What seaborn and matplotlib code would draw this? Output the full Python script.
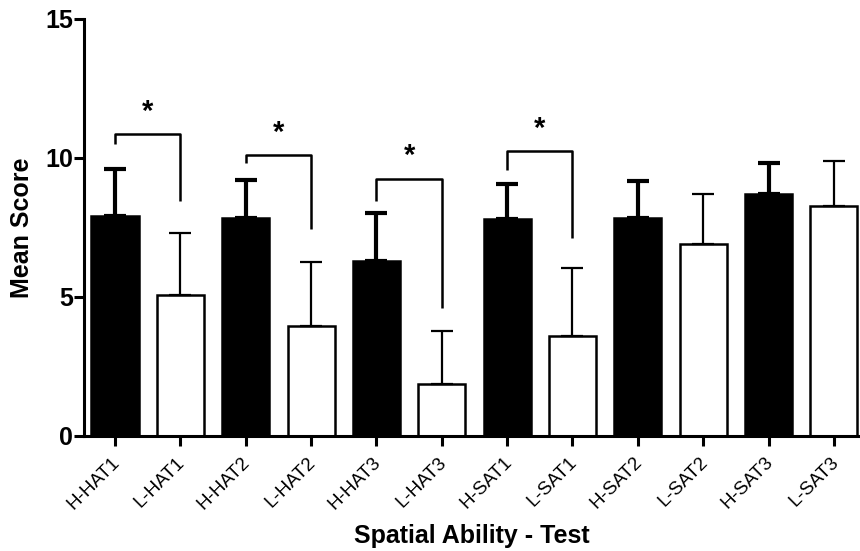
import matplotlib
matplotlib.use("Agg")
import matplotlib.pyplot as plt
import matplotlib.transforms as mtransforms
import numpy as np
import pandas as pd
import seaborn as sns

# ---------------------------------------------------------------------------
# Data
# ---------------------------------------------------------------------------
groups = ["H-HAT1", "L-HAT1", "H-HAT2", "L-HAT2", "H-HAT3", "L-HAT3",
          "H-SAT1", "L-SAT1", "H-SAT2", "L-SAT2", "H-SAT3", "L-SAT3"]
mean_score = [7.9, 5.05, 7.85, 3.95, 6.3, 1.85, 7.8, 3.6, 7.85, 6.9, 8.7, 8.25]
sd_score = [1.7, 2.23, 1.36, 2.3, 1.7, 1.92, 1.24, 2.42, 1.32, 1.78, 1.1, 1.65]
ability = ["High", "Low"] * 6

# significance brackets: (left bar, right bar, top, left leg end, right leg end)
sig_left = [0, 2, 4, 6]
sig_right = [1, 3, 5, 7]
sig_top = [10.85, 10.1, 9.25, 10.25]
sig_left_end = [10.5, 9.8, 8.45, 9.55]
sig_right_end = [8.45, 7.45, 4.6, 7.1]

df = pd.DataFrame({"group": groups, "mean": mean_score, "sd": sd_score,
                   "ability": ability})

sns.set_style("ticks")
plt.rcParams["font.family"] = ["Liberation Sans", "DejaVu Sans"]
plt.rcParams.update({"text.color": "black", "axes.labelcolor": "black",
                     "xtick.color": "black", "ytick.color": "black",
                     "axes.edgecolor": "black"})

fig = plt.figure(figsize=(8.6, 5.51), dpi=100)
ax = fig.add_axes([0.098, 0.209, 0.902, 0.757])

sns.barplot(data=df, x="group", y="mean", hue="ability",
            palette={"High": "black", "Low": "white"}, dodge=False,
            errorbar=None, width=0.72, edgecolor="black", linewidth=1.8,
            legend=False, ax=ax)

# upper-only error bars, heavier on the black bars
x = np.arange(len(groups))
for xi, m, s, a in zip(x, mean_score, sd_score, ability):
    lw = 3.0 if a == "High" else 1.6
    ax.errorbar(xi, m, yerr=[[0], [s]], fmt="none", ecolor="black",
                elinewidth=lw, capsize=8, capthick=lw, zorder=3)

# significance brackets
for l, r, top, le, re_ in zip(sig_left, sig_right, sig_top,
                              sig_left_end, sig_right_end):
    ax.plot([l, l, r, r], [le, top, top, re_], color="black", lw=1.8,
            solid_capstyle="butt")
    ax.text((l + r) / 2, top + 0.3, "*", ha="center", va="bottom",
            fontsize=21, fontweight="bold")

ax.set_xlim(-0.47, 11.4)
ax.set_ylim(0, 15)
ax.set_yticks([0, 5, 10, 15])
ax.set_xticks(x)
ax.set_xticklabels(groups, rotation=45, ha="right", fontsize=13.5)
ax.set_xlabel("Spatial Ability - Test", fontsize=18, fontweight="bold",
              labelpad=8)
ax.set_ylabel("Mean Score", fontsize=18, fontweight="bold", labelpad=8)
for lbl in ax.get_yticklabels():
    lbl.set_fontweight("bold")
    lbl.set_fontsize(18)

sns.despine(ax=ax)
ax.spines["left"].set_linewidth(2.2)
ax.spines["bottom"].set_linewidth(2.2)
ax.tick_params(axis="both", width=2.2, length=7, color="black", pad=1)
ax.tick_params(axis="x", pad=6)

# nudge rotated tick labels so their ends sit just right of the ticks
shift = mtransforms.ScaledTranslation(0.08, 0, fig.dpi_scale_trans)
for lbl in ax.get_xticklabels():
    lbl.set_transform(lbl.get_transform() + shift)

fig.savefig("out.png", dpi=100)
